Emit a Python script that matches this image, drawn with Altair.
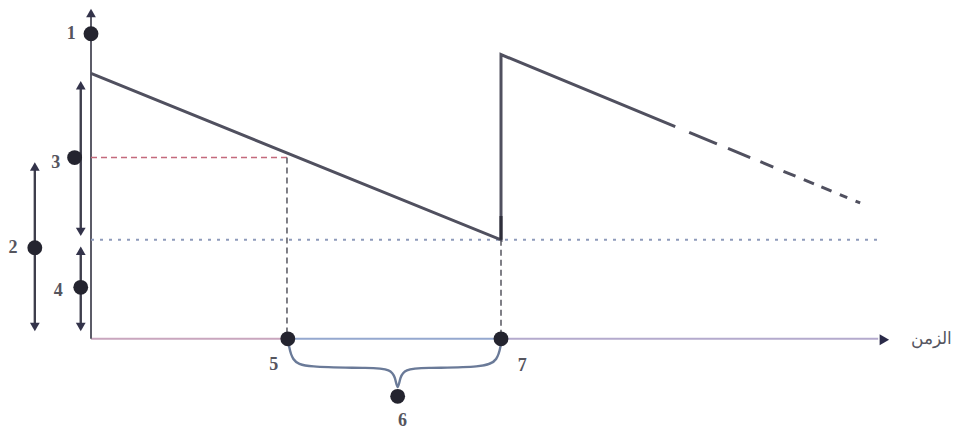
import altair as alt
import pandas as pd

# ---- data (time units on x, inventory units on y) ----
saw_t = [0, 10, 10, 14.25]
saw_v = [26.8, 10, 28.7, 21.43]
tail_t = [14.59, 18.76]
tail_v = [20.85, 13.72]

reorder_level = 10
level3 = 18.3
t_level3 = 4.78
t_cycle = 10
axis_end_t = 19.2
y_axis_top = 32.9

# point markers and labels
dot_labels = ["1", "2", "3", "4", "5", "6", "7"]
dot_t = [0, -1.37, -0.4, -0.25, 4.8, 7.48, 10]
dot_v = [30.8, 9.2, 18.3, 5.2, 0, -5.8, 0]
lab_t = [-0.48, -1.9, -0.86, -0.8, 4.46, 7.6, 10.52]
lab_v = [30.8, 9.2, 17.8, 4.8, -2.6, -8.3, -2.7]

# double-headed arrows on the left: x, bottom, top
arr_t = [-1.37, -0.25, -0.25]
arr_lo = [1.2, 10.8, 1.2]
arr_hi = [17.4, 25.6, 8.9]

# brace under the time axis
brace_t = [4.82, 4.9, 5.2, 6.9, 7.3, 7.42, 7.48, 7.54, 7.66, 8.06, 9.6, 9.92, 10.0]
brace_v = [-0.5, -2.2, -2.9, -2.9, -3.1, -3.8, -5.4, -3.8, -3.1, -2.9, -2.9, -2.2, -0.5]

time_label = "الزمن"

XS = alt.Scale(domain=[-2, 21], nice=False, zero=False)
YS = alt.Scale(domain=[-9, 33.2], nice=False, zero=False)


def X(f="t"):
    return alt.X(f, type="quantitative", scale=XS, axis=None)


def Y(f="v"):
    return alt.Y(f, type="quantitative", scale=YS, axis=None)


def seg(rows, color, width, dash=None):
    df = pd.DataFrame(rows, columns=["t", "v", "t2", "v2"])
    kw = dict(color=color, strokeWidth=width)
    if dash:
        kw["strokeDash"] = dash
    return alt.Chart(df).mark_rule(**kw).encode(
        x=X("t"), x2=alt.X2("t2"), y=Y("v"), y2=alt.Y2("v2"))


layers = []

# time axis (coloured segments)
layers.append(seg([[0, 0, dot_t[4], 0]], "#c9a6be", 2))
layers.append(seg([[dot_t[4], 0, t_cycle, 0]], "#95a8cf", 2))
layers.append(seg([[t_cycle, 0, axis_end_t, 0]], "#b4aacd", 2))
# inventory axis
layers.append(seg([[0, 0, 0, y_axis_top]], "#5c5c68", 2))

# reference lines
layers.append(seg([[0, level3, t_level3, level3]], "#c46a7c", 1.5, [6, 4]))
layers.append(seg([[t_level3, level3, t_level3, 0]], "#55555f", 1.5, [6, 4]))
layers.append(seg([[0, reorder_level, axis_end_t, reorder_level]], "#8e9bbb", 2, [3, 6]))
layers.append(seg([[t_cycle, reorder_level, t_cycle, 0]], "#55555f", 1.5, [6, 4]))

# sawtooth
saw = pd.DataFrame({"t": saw_t, "v": saw_v, "i": range(len(saw_t))})
layers.append(alt.Chart(saw).mark_line(color="#50505f", strokeWidth=3).encode(
    x=X(), y=Y(), order=alt.Order("i:Q")))
layers.append(seg([[t_cycle, reorder_level, t_cycle, 12.4]], "#2e2e3a", 3))
layers.append(seg([[tail_t[0], tail_v[0], tail_t[1], tail_v[1]]], "#50505f", 3,
                  [30, 12, 24, 11, 14, 11, 13, 9, 11, 8, 11, 9, 8, 9, 8]))

# left arrows
arr = pd.DataFrame({"t": arr_t, "v": arr_lo, "t2": arr_t, "v2": arr_hi})
layers.append(alt.Chart(arr).mark_rule(color="#3e3e4c", strokeWidth=2.4).encode(
    x=X("t"), x2=alt.X2("t2"), y=Y("v"), y2=alt.Y2("v2")))
ups = pd.DataFrame({"t": arr_t + [0], "v": arr_hi + [y_axis_top]})
downs = pd.DataFrame({"t": arr_t, "v": arr_lo})
layers.append(alt.Chart(ups).mark_point(shape="triangle-up", filled=True, size=95,
                                        color="#33334a", opacity=1).encode(x=X(), y=Y()))
layers.append(alt.Chart(downs).mark_point(shape="triangle-down", filled=True, size=95,
                                          color="#33334a", opacity=1).encode(x=X(), y=Y()))
# time arrow head
layers.append(alt.Chart(pd.DataFrame({"t": [axis_end_t + 0.15], "v": [-0.1]}))
              .mark_point(shape="triangle-right", filled=True, size=120, color="#2a2a48",
                          opacity=1).encode(x=X(), y=Y()))

# brace
br = pd.DataFrame({"t": brace_t, "v": brace_v, "i": range(len(brace_t))})
layers.append(alt.Chart(br).mark_line(color="#6a7a98", strokeWidth=2.4, interpolate="basis")
              .encode(x=X(), y=Y(), order=alt.Order("i:Q")))

# dots
dots = pd.DataFrame({"t": dot_t, "v": dot_v})
layers.append(alt.Chart(dots).mark_circle(size=220, color="#24242f", opacity=1)
              .encode(x=X(), y=Y()))

# labels
labs = pd.DataFrame({"t": lab_t, "v": lab_v, "s": dot_labels})
layers.append(alt.Chart(labs).mark_text(font="Liberation Serif", fontSize=18, fontWeight="bold",
                                        color="#55555e", align="center", baseline="middle")
              .encode(x=X(), y=Y(), text="s:N"))
layers.append(alt.Chart(pd.DataFrame({"t": [20.5], "v": [0.0], "s": [time_label]}))
              .mark_text(font="Noto Sans", fontSize=17, color="#55555f", align="center",
                         baseline="middle")
              .encode(x=X(), y=Y(), text="s:N"))

chart = alt.layer(*layers).properties(
    width=944, height=422, padding=0,
    autosize=alt.AutoSizeParams(type="fit", contains="padding"),
    background="white",
).configure_view(stroke=None)

chart.save("out.html", embed_options={"renderer": "svg", "actions": False})
